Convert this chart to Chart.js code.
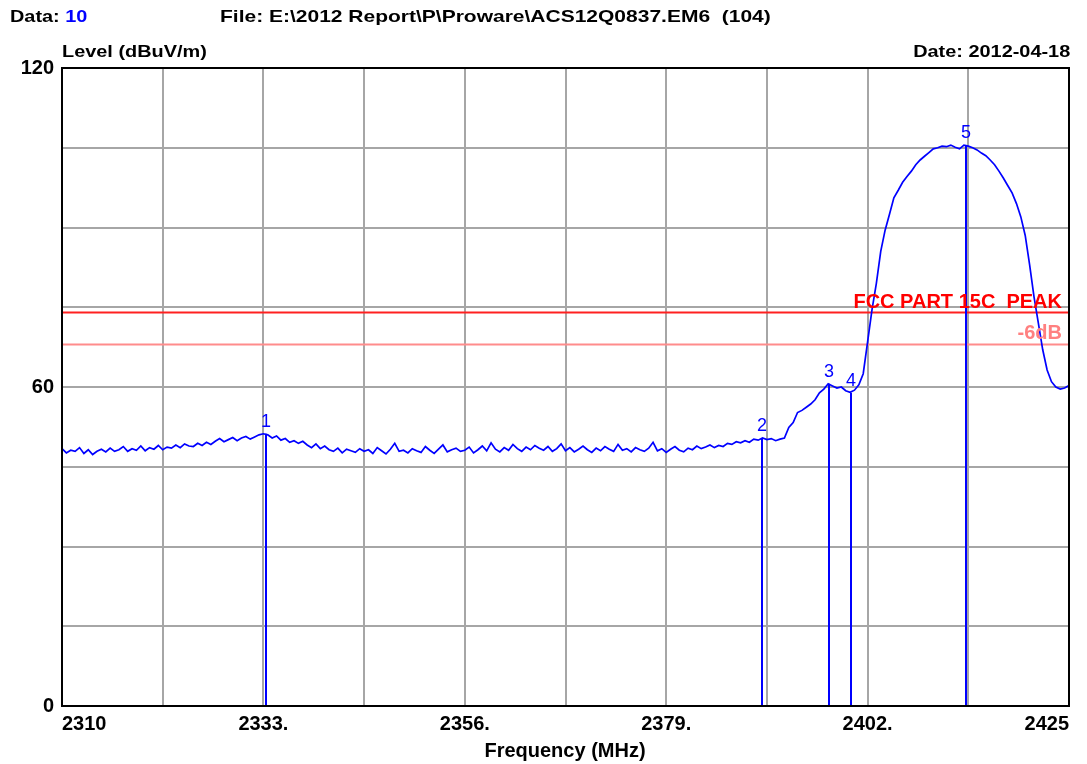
<!DOCTYPE html>
<html>
<head>
<meta charset="utf-8">
<script src="https://cdn.jsdelivr.net/npm/chart.js@4.4.1/dist/chart.umd.min.js"></script>
<style>
  body { margin: 0; background: #fff; }
  #wrap { position: relative; width: 1087px; height: 764px; }
  .hdr { position: absolute; font: bold 17px 'Liberation Sans', Arial, sans-serif; line-height: 1; white-space: pre; color: #000; transform: scaleX(1.17); transform-origin: left top; }
  .right { transform-origin: right top; }
  .wide { transform: scaleX(1.235); }
  .blue { color: #0000ff; }
  #xtitle { position: absolute; left: 465px; width: 200px; top: 740px; text-align: center; font: bold 20px 'Liberation Sans', Arial, sans-serif; line-height: 1; }
</style>
</head>
<body>
<div id="wrap">
  <canvas id="emission-chart" width="1087" height="764"></canvas>
  <div class="hdr" style="left:10px; top:8px;">Data: <span class="blue">10</span></div>
  <div class="hdr wide" style="left:220px; top:8px;">File: E:\2012 Report\P\Proware\ACS12Q0837.EM6  (104)</div>
  <div class="hdr" style="left:62px; top:43px;">Level (dBuV/m)</div>
  <div class="hdr right" style="right:17px; top:43px;">Date: 2012-04-18</div>
  <div id="xtitle">Frequency (MHz)</div>
</div>
<script>
// measured trace, MHz / dBuV/m
var freqs = [
  2310.0, 2310.5, 2311.0, 2311.5, 2312.0, 2312.5, 2313.0, 2313.5, 2314.0, 2314.5,
  2315.0, 2315.5, 2316.0, 2316.5, 2317.0, 2317.5, 2318.0, 2318.5, 2319.0, 2319.5,
  2320.0, 2320.5, 2321.0, 2321.5, 2322.0, 2322.5, 2323.0, 2323.5, 2324.0, 2324.5,
  2325.0, 2325.5, 2326.0, 2326.5, 2327.0, 2327.5, 2328.0, 2328.5, 2329.0, 2329.5,
  2330.0, 2330.5, 2331.0, 2331.5, 2332.0, 2332.5, 2333.0, 2333.5, 2334.0, 2334.5,
  2335.0, 2335.5, 2336.0, 2336.5, 2337.0, 2337.5, 2338.0, 2338.5, 2339.0, 2339.5,
  2340.0, 2340.5, 2341.0, 2341.5, 2342.0, 2342.5, 2343.0, 2343.5, 2344.0, 2344.5,
  2345.0, 2345.5, 2346.0, 2346.5, 2347.0, 2347.5, 2348.0, 2348.5, 2349.0, 2349.5,
  2350.0, 2350.5, 2351.0, 2351.5, 2352.0, 2352.5, 2353.0, 2353.5, 2354.0, 2354.5,
  2355.0, 2355.5, 2356.0, 2356.5, 2357.0, 2357.5, 2358.0, 2358.5, 2359.0, 2359.5,
  2360.0, 2360.5, 2361.0, 2361.5, 2362.0, 2362.5, 2363.0, 2363.5, 2364.0, 2364.5,
  2365.0, 2365.5, 2366.0, 2366.5, 2367.0, 2367.5, 2368.0, 2368.5, 2369.0, 2369.5,
  2370.0, 2370.5, 2371.0, 2371.5, 2372.0, 2372.5, 2373.0, 2373.5, 2374.0, 2374.5,
  2375.0, 2375.5, 2376.0, 2376.5, 2377.0, 2377.5, 2378.0, 2378.5, 2379.0, 2379.5,
  2380.0, 2380.5, 2381.0, 2381.5, 2382.0, 2382.5, 2383.0, 2383.5, 2384.0, 2384.5,
  2385.0, 2385.5, 2386.0, 2386.5, 2387.0, 2387.5, 2388.0, 2388.5, 2389.0, 2389.5,
  2390.0, 2390.5, 2391.0, 2391.5, 2392.0, 2392.5, 2393.0, 2393.5, 2394.0, 2394.5,
  2395.0, 2395.5, 2396.0, 2396.5, 2397.0, 2397.5, 2398.0, 2398.5, 2399.0, 2399.5,
  2400.0, 2400.5, 2401.0, 2401.5, 2402.0, 2402.5, 2403.0, 2403.5, 2404.0, 2404.5,
  2405.0, 2405.5, 2406.0, 2406.5, 2407.0, 2407.5, 2408.0, 2408.5, 2409.0, 2409.5,
  2410.0, 2410.5, 2411.0, 2411.5, 2412.0, 2412.5, 2413.0, 2413.5, 2414.0, 2414.5,
  2415.0, 2415.5, 2416.0, 2416.5, 2417.0, 2417.5, 2418.0, 2418.5, 2419.0, 2419.5,
  2420.0, 2420.5, 2421.0, 2421.5, 2422.0, 2422.5, 2423.0, 2423.5, 2424.0, 2424.5,
  2425.0
];
var levels = [
  48.4, 47.6, 48.1, 47.9, 48.6, 47.5, 48.2, 47.3, 47.9, 48.3,
  47.8, 48.5, 47.9, 48.2, 48.8, 47.9, 48.4, 48.1, 48.9, 48.0,
  48.6, 48.3, 49.0, 48.2, 48.7, 48.5, 49.1, 48.6, 49.3, 48.9,
  48.8, 49.4, 49.0, 49.6, 49.2, 49.8, 50.3, 49.7, 50.1, 50.5,
  49.9, 50.4, 50.7, 50.2, 50.6, 51.0, 51.2, 51.0, 50.4, 50.8,
  50.0, 50.3, 49.6, 49.9, 49.4, 49.8, 49.1, 48.6, 49.3, 48.4,
  48.9, 48.2, 47.9, 48.5, 47.6, 48.3, 48.0, 47.7, 48.4, 47.9,
  48.2, 47.5, 48.6, 48.0, 47.4, 48.3, 49.4, 47.9, 48.1, 47.6,
  48.4, 48.0, 47.7, 48.8, 48.1, 47.5, 48.3, 49.1, 47.8, 48.2,
  48.5, 47.9, 48.1, 48.7, 47.6, 48.2, 48.9, 48.0, 49.5, 48.3,
  47.8, 48.6, 48.1, 49.2, 48.4, 47.9, 48.7, 48.2, 49.0, 48.5,
  48.1, 48.8, 47.9, 48.4, 49.3, 48.0, 48.6, 47.8, 48.3, 48.9,
  48.2, 47.7, 48.5, 48.0, 48.8, 48.3, 47.9, 49.2, 48.1, 48.4,
  47.8, 48.6, 48.2, 47.9, 48.5, 49.6, 48.0, 48.4, 47.7, 48.3,
  48.8, 48.1, 47.8, 48.5, 48.2, 48.9, 48.4, 48.7, 49.1, 48.6,
  49.0, 48.8, 49.4, 49.2, 49.7, 49.5, 49.9, 49.6, 50.2, 50.0,
  50.4, 50.1, 50.3, 49.9, 50.2, 50.4, 52.4, 53.3, 55.2, 55.6,
  56.2, 56.8, 57.6, 58.9, 59.6, 60.6, 60.2, 59.8, 60.0, 59.3,
  59.0, 59.4, 60.4, 62.5, 68.5, 74.5, 79.5, 85.5, 89.5, 92.5,
  95.6, 97.0, 98.5, 99.6, 100.6, 101.8, 102.7, 103.4, 104.1, 104.8,
  105.0, 105.3, 105.2, 105.5, 105.1, 104.8, 105.5, 105.3, 105.0, 104.6,
  104.0, 103.5, 102.7, 101.8, 100.6, 99.3, 97.9, 96.5, 94.5, 92.0,
  88.5, 83.0, 77.0, 72.0, 67.0, 63.2, 61.0, 60.0, 59.6, 59.8,
  60.3
];

var markerFreqs = [2333.3, 2389.9, 2397.6, 2400.1, 2413.2];
var markerLevels = [51.2, 50.4, 60.6, 58.9, 105.5];
var markerLabels = ['1', '2', '3', '4', '5'];

var limitLevels = [74, 68];
var limitLabels = ['FCC PART 15C  PEAK', '-6dB'];
var limitColors = ['#ff2020', '#ff8c8c'];
var limitTextColors = ['#ff0000', '#ff8080'];

var freqTickLabels = ['2310', '', '2333.', '', '2356.', '', '2379.', '', '2402.', '', '2425'];
var levelTickLabels = ['0', '', '', '', '60', '', '', '', '120'];

var tickFont = { family: "'Liberation Sans', Arial, sans-serif", size: 20, weight: 'bold' };

function toPoints(xs, ys) {
  return xs.map(function (x, i) { return { x: x, y: ys[i] }; });
}

function limitPoints(level) {
  return [{ x: freqs[0], y: level }, { x: freqs[freqs.length - 1], y: level }];
}

// marker lines, limit texts and the black frame
var overlay = {
  id: 'overlay',
  afterDatasetsDraw: function (chart) {
    var ctx = chart.ctx;
    var xs = chart.scales.x;
    var ys = chart.scales.y;
    var area = chart.chartArea;
    ctx.save();

    ctx.strokeStyle = '#0000ff';
    ctx.fillStyle = '#0000ff';
    ctx.lineWidth = 2;
    ctx.font = "18px 'Liberation Sans', Arial, sans-serif";
    ctx.textAlign = 'center';
    ctx.textBaseline = 'alphabetic';
    for (var i = 0; i < markerFreqs.length; i++) {
      var px = Math.round(xs.getPixelForValue(markerFreqs[i]));
      var top = ys.getPixelForValue(markerLevels[i]);
      ctx.beginPath();
      ctx.moveTo(px, area.bottom);
      ctx.lineTo(px, top);
      ctx.stroke();
      ctx.fillText(markerLabels[i], px, top - 7);
    }

    ctx.font = "bold 20px 'Liberation Sans', Arial, sans-serif";
    ctx.textAlign = 'right';
    for (var j = 0; j < limitLevels.length; j++) {
      ctx.fillStyle = limitTextColors[j];
      ctx.fillText(limitLabels[j], area.right - 7, ys.getPixelForValue(limitLevels[j]) - 5);
    }

    ctx.strokeStyle = '#000';
    ctx.lineWidth = 2;
    ctx.strokeRect(area.left, area.top, area.right - area.left, area.bottom - area.top);
    ctx.restore();
  }
};

new Chart(document.getElementById('emission-chart'), {
  type: 'line',
  data: {
    datasets: [{
      data: toPoints(freqs, levels),
      borderColor: '#0000ff',
      borderWidth: 1.7,
      pointRadius: 0,
      tension: 0
    }, {
      data: limitPoints(limitLevels[0]),
      borderColor: limitColors[0],
      borderWidth: 2,
      pointRadius: 0
    }, {
      data: limitPoints(limitLevels[1]),
      borderColor: limitColors[1],
      borderWidth: 2,
      pointRadius: 0
    }]
  },
  options: {
    responsive: false,
    animation: false,
    layout: { padding: { top: 68, right: 18, left: 0, bottom: 0 } },
    plugins: { legend: { display: false }, tooltip: { enabled: false } },
    scales: {
      x: {
        type: 'linear',
        min: 2310,
        max: 2425,
        afterFit: function (s) { s.height = 58; },
        border: { display: false },
        grid: { color: '#a6a6a6', lineWidth: 2, drawTicks: false },
        ticks: {
          stepSize: 11.5,
          autoSkip: false,
          maxRotation: 0,
          align: 'inner',
          padding: 6,
          color: '#000',
          font: tickFont,
          callback: function (v, i) { return freqTickLabels[i]; }
        }
      },
      y: {
        min: 0,
        max: 120,
        afterFit: function (s) { s.width = 62; },
        border: { display: false },
        grid: { color: '#a6a6a6', lineWidth: 2, drawTicks: false },
        ticks: {
          stepSize: 15,
          padding: 8,
          color: '#000',
          font: tickFont,
          callback: function (v, i) { return levelTickLabels[i]; }
        }
      }
    }
  },
  plugins: [overlay]
});
</script>
</body>
</html>
